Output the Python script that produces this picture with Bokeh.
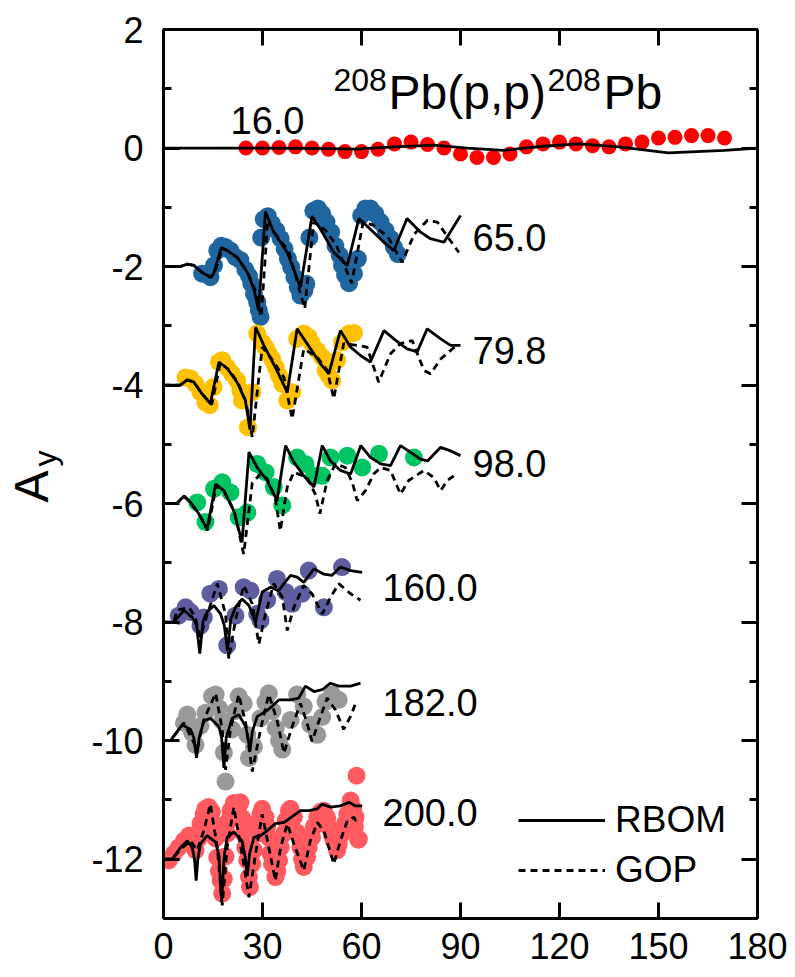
import math
from bokeh.plotting import figure
from bokeh.layouts import row
from bokeh.core.properties import value
from bokeh.models import Label, SingleIntervalTicker, LinearAxis, Legend, LegendItem, Range1d
from bokeh.embed import file_html
from bokeh.resources import INLINE

FONT = "Liberation Sans"

# ---------------- data ----------------
energies = ["16.0", "65.0", "79.8", "98.0", "160.0", "182.0", "200.0"]
offsets = [0, -2, -4, -6, -8, -10, -12]
colors = ["#FF0000", "#1F65A0", "#FFC000", "#00C462", "#5C5EA0", "#999999", "#FF5A5F"]

# 16.0 MeV
exp16_x = [25, 30, 35, 40, 45, 50, 55, 60, 65, 70, 75, 80, 85, 90, 95, 100, 105, 110, 115, 120,
           125, 130, 135, 140, 145, 150, 155, 160, 165, 170]
exp16_y = [0.00, 0.00, 0.01, 0.02, 0.00, -0.02, -0.06, -0.06, -0.02, 0.07, 0.10, 0.06, 0.00, -0.10,
           -0.16, -0.16, -0.10, 0.02, 0.07, 0.10, 0.07, 0.04, 0.02, 0.07, 0.10, 0.17, 0.18, 0.21, 0.21, 0.17]
rbom16_x = [0, 30, 50, 58, 70, 82, 92, 103, 115, 126, 138, 153, 170, 180]
rbom16_y = [0, 0, -0.01, -0.02, 0.02, 0.05, 0.0, -0.04, 0.03, 0.07, 0.02, -0.08, -0.04, 0.0]

# 65.0 MeV
exp65_x = [11.7, 14.2, 15.3, 16.3, 17.5, 18.8, 20.3, 21.8, 23.3, 24.8, 25.9, 26.6, 27.4, 28.4, 28.9,
           29.4, 29.6, 30.4, 31.6, 32.9, 34.2, 35.5, 36.7, 37.7, 38.7, 39.7, 40.7, 41.5, 42.7, 43.3,
           44.2, 45.4, 46.8, 48.1, 49.4, 50.8, 52.1, 53.4, 54.1, 55.0, 56.2, 57.7, 58.9, 59.9, 61.2,
           62.7, 64.2, 65.8, 67.3, 68.8, 69.8, 71.0]
exp65_y = [-0.12, -0.18, 0.02, 0.27, 0.35, 0.33, 0.27, 0.16, 0.11, -0.05, -0.16, -0.29, -0.46, -0.60,
           -0.74, -0.85, 0.49, 0.80, 0.85, 0.72, 0.61, 0.47, 0.30, 0.13, -0.01, -0.18, -0.35, -0.49,
           -0.40, -0.29, 0.49, 0.94, 0.98, 0.89, 0.75, 0.58, 0.35, 0.19, 0.02, -0.14, -0.28, -0.12,
           0.13, 0.86, 0.98, 0.98, 0.89, 0.75, 0.61, 0.47, 0.33, 0.21]
rbom65_x = [0, 5, 7.2, 9.2, 11.7, 14.2, 15.2, 17.5, 19.3, 22.3, 25.4, 27.4, 28.8, 30.9, 33.4, 37.5,
            41.5, 45.0, 47.6, 51.6, 55.7, 59.2, 62.7, 66.8, 69.8, 73.8, 77.9, 80.9, 85.0, 90.0]
rbom65_y = [0, 0, 0.04, 0.02, -0.10, -0.18, -0.12, 0.32, 0.27, 0.16, -0.10, -0.38, -0.74, 0.93, 0.58,
            0.24, -0.35, 0.85, 0.63, 0.24, 0.02, 0.81, 0.63, 0.41, 0.27, 0.81, 0.58, 0.47, 0.41, 0.86]
gop65_x = [0, 5, 7.2, 9.2, 11.7, 14.4, 15.6, 17.7, 19.5, 22.5, 25.5, 27.8, 29.6, 31.6, 34.0, 38.0,
           42.8, 45.5, 49.0, 52.5, 57.0, 60.5, 63.5, 68.0, 72.3, 76.0, 80.0, 83.0, 86.5, 89.5]
gop65_y = [0, 0, 0.04, 0.02, -0.10, -0.18, -0.10, 0.30, 0.27, 0.14, -0.10, -0.40, -0.85, 0.78, 0.55,
           0.25, -0.71, 0.75, 0.62, 0.35, -0.28, 0.75, 0.70, 0.50, 0.07, 0.55, 0.78, 0.75, 0.47, 0.24]

# 79.8 MeV
exp80_x = [6.7, 8.2, 9.7, 11.2, 12.7, 14.0, 15.2, 16.8, 17.8, 19.3, 20.8, 22.3, 23.3, 23.8, 25.6,
           26.9, 28.4, 29.9, 30.9, 31.9, 32.9, 34.0, 35.0, 36.0, 37.5, 39.0, 40.5, 42.5, 44.0, 45.0,
           46.6, 48.1, 49.1, 50.1, 51.1, 52.6, 54.1, 56.2, 57.7]
exp80_y = [0.13, 0.11, 0.02, -0.12, -0.29, -0.34, -0.03, 0.39, 0.42, 0.30, 0.19, 0.08, -0.09, -0.26,
           -0.71, -0.12, 0.87, 0.72, 0.64, 0.53, 0.44, 0.30, 0.16, 0.02, -0.26, -0.12, 0.78, 0.87,
           0.81, 0.70, 0.58, 0.47, 0.25, 0.16, 0.08, 0.42, 0.72, 0.87, 0.88]
rbom80_x = [0, 5.1, 7.2, 9.2, 11.7, 14.2, 16.8, 19.3, 22.3, 24.8, 26.2, 27.9, 30.4, 33.9, 37.5, 40.5,
            43.5, 47.6, 50.1, 53.6, 56.7, 59.7, 62.7, 66.8, 69.8, 73.8, 76.9, 79.9, 84.0, 87.0, 90.0]
rbom80_y = [0, 0, 0.09, 0.05, -0.15, -0.31, 0.39, 0.28, 0.05, -0.26, -0.75, 0.98, 0.67, 0.30, -0.12,
            0.95, 0.70, 0.36, 0.19, 0.92, 0.64, 0.50, 0.39, 0.92, 0.78, 0.61, 0.56, 0.95, 0.78, 0.67, 0.67]
gop80_x = [0, 5.1, 7.2, 9.2, 11.7, 14.6, 17.2, 19.6, 22.5, 25.0, 26.9, 29.9, 32.4, 36.5, 39.0, 42.5,
           46.6, 49.6, 51.6, 54.6, 58.7, 61.7, 65.2, 68.8, 71.8, 75.4, 78.9, 80.9, 84.0, 87.5, 89.0]
gop80_y = [0, 0, 0.09, 0.05, -0.15, -0.33, 0.37, 0.27, 0.05, -0.28, -0.88, 0.64, 0.47, 0.13, -0.57,
           0.61, 0.47, 0.25, -0.23, 0.70, 0.67, 0.64, 0.05, 0.53, 0.70, 0.75, 0.25, 0.19, 0.44, 0.61, 0.67]

# 98.0 MeV
exp98_x = [10.2, 12.7, 15.3, 17.8, 20.3, 22.8, 25.4, 28.4, 30.9, 33.4, 36.0, 40.5, 43.0, 45.6, 48.1,
           50.6, 55.7, 60.2, 65.3, 75.9]
exp98_y = [0.02, -0.31, 0.25, 0.36, 0.19, -0.23, -0.15, 0.67, 0.53, 0.28, -0.03, 0.78, 0.67, 0.47,
           0.47, 0.78, 0.81, 0.61, 0.84, 0.78]
rbom98_x = [0, 4.0, 6.2, 8.2, 10.7, 13.2, 15.8, 18.3, 21.3, 23.8, 25.9, 28.4, 31.4, 34.4, 37.0, 39.5,
            42.5, 45.6, 48.1, 50.6, 53.6, 56.7, 59.8, 62.7, 65.8, 68.8, 71.8, 74.8, 77.9, 80.0, 84.0,
            87.0, 90.0]
rbom98_y = [0, 0, 0.13, 0.02, -0.17, -0.43, 0.33, 0.22, -0.12, -0.65, 0.87, 0.61, 0.39, 0.05, 0.98,
            0.70, 0.47, 0.28, 0.98, 0.72, 0.56, 0.50, 0.98, 0.78, 0.67, 0.64, 0.98, 0.87, 0.75, 0.72,
            0.95, 0.89, 0.81]
gop98_x = [0, 4.0, 6.2, 8.2, 10.7, 13.4, 16.0, 18.5, 21.5, 24.3, 26.9, 29.4, 31.4, 33.9, 35.4, 37.5,
           39.5, 43.5, 46.0, 47.4, 49.6, 52.1, 55.1, 57.2, 58.7, 61.2, 63.7, 65.8, 68.8, 70.3, 71.8,
           74.3, 78.9, 81.9, 84.0, 86.0, 88.0]
gop98_y = [0, 0, 0.13, 0.02, -0.17, -0.45, 0.30, 0.20, -0.14, -0.85, 0.35, 0.50, 0.42, 0.08, -0.46,
           0.28, 0.53, 0.44, 0.16, -0.17, 0.39, 0.67, 0.61, 0.36, 0.05, 0.22, 0.50, 0.61, 0.56, 0.36,
           0.16, 0.39, 0.56, 0.44, 0.22, 0.39, 0.47]

# 160.0 MeV
exp160_x = [4.6, 6.7, 8.2, 11.2, 12.2, 14.2, 16.8, 19.3, 21.8, 24.3, 26.4, 28.4, 29.4, 31.4, 34.4,
            37.0, 39.0, 42.0, 44.0, 48.6, 54.1]
exp160_y = [0.11, 0.25, 0.17, -0.06, 0.08, 0.48, 0.56, -0.39, 0.11, 0.59, 0.53, 0.14, 0.03, 0.37,
            0.73, 0.51, 0.31, 0.48, 0.87, 0.25, 0.93]
rbom160_x = [0, 3.1, 6.2, 8.7, 10.0, 11.0, 12.0, 13.2, 15.3, 17.3, 18.4, 19.4, 20.4, 21.8, 23.8, 25.9,
             27.9, 29.9, 32.4, 34.9, 36.5, 38.5, 40.5, 42.5, 45.6, 48.6, 51.1, 53.6, 56.7, 60.2]
rbom160_y = [0, 0, 0.20, 0.08, -0.05, -0.53, 0.02, 0.17, 0.28, 0.14, -0.05, -0.48, 0.05, 0.25, 0.39,
             0.28, 0.0, 0.51, 0.59, 0.53, 0.65, 0.79, 0.76, 0.67, 0.90, 0.81, 0.79, 0.93, 0.87, 0.84]
gop160_x = [0, 3.1, 4.1, 7.7, 9.5, 11.2, 12.7, 16.3, 18.8, 19.8, 21.8, 24.3, 26.9, 28.9, 30.9, 33.4,
            36.0, 37.5, 39.5, 42.5, 45.0, 48.1, 50.6, 53.1, 56.7, 59.7]
gop160_y = [0, 0, 0.20, 0.25, 0.10, -0.25, 0.03, 0.65, 0.14, -0.62, 0.03, 0.62, 0.31, -0.37, 0.14,
            0.65, 0.42, -0.14, 0.25, 0.62, 0.48, 0.14, 0.42, 0.65, 0.48, 0.37]

# 182.0 MeV
exp182_x = [6.2, 7.2, 8.7, 9.7, 11.2, 12.7, 14.7, 15.8, 16.8, 17.8, 18.3, 18.8, 20.8, 21.8, 22.8,
            24.3, 25.4, 25.9, 27.4, 29.4, 30.9, 31.9, 33.0, 34.0, 35.0, 36.0, 38.5, 40.5, 42.5, 44.5,
            46.6, 48.1, 49.1, 51.1, 53.1]
exp182_y = [0.30, 0.44, 0.13, -0.07, 0.25, 0.47, 0.75, 0.78, 0.55, 0.33, -0.20, -0.69, 0.19, 0.50,
            0.75, 0.63, 0.10, -0.29, -0.10, 0.38, 0.65, 0.80, 0.50, 0.21, 0.00, -0.15, 0.35, 0.78, 0.58,
            0.27, 0.10, 0.40, 0.66, 0.78, 0.69]
rbom182_x = [0, 2.1, 5.7, 8.2, 9.2, 10.0, 10.8, 12.2, 14.2, 16.8, 17.6, 18.3, 19.0, 20.8, 22.8, 24.9,
             25.6, 26.2, 26.9, 28.4, 30.9, 32.9, 35.0, 38.5, 41.0, 43.0, 45.6, 48.1, 50.6, 53.1, 56.7,
             59.7]
rbom182_y = [0, 0, 0.27, 0.19, 0.05, -0.29, 0.05, 0.33, 0.38, 0.24, 0.05, -0.46, 0.05, 0.38, 0.44,
             0.24, 0.05, -0.18, 0.15, 0.41, 0.49, 0.58, 0.69, 0.69, 0.72, 0.92, 0.83, 0.86, 0.97, 0.92,
             0.92, 0.97]
gop182_x = [0, 2.1, 6.2, 8.7, 10.2, 12.2, 15.8, 17.8, 18.8, 20.3, 22.8, 24.9, 26.9, 29.4, 31.9, 34.4,
            36.5, 39.0, 41.5, 43.5, 45.0, 47.6, 49.6, 52.1, 54.6, 56.7, 58.2]
gop182_y = [0, 0, 0.30, 0.02, -0.15, 0.35, 0.80, 0.19, -0.49, 0.19, 0.78, 0.30, -0.52, 0.19, 0.78,
            0.35, -0.21, 0.24, 0.63, 0.30, -0.01, 0.41, 0.72, 0.52, 0.19, 0.41, 0.63]

# 200.0 MeV
exp200_x = [1.6, 3.1, 4.6, 6.2, 7.7, 8.7, 9.7, 10.7, 11.2, 11.7, 12.2, 12.7, 13.7, 14.7, 15.3, 15.8,
            16.3, 16.8, 17.3, 17.8, 18.3, 18.8, 19.3, 19.8, 20.3, 21.3, 21.8, 22.8, 23.3, 23.8, 24.3,
            24.8, 25.4, 25.9, 26.2, 26.9, 27.4, 27.9, 28.4, 29.4, 29.9, 30.9, 31.4, 31.9, 32.4, 32.9,
            33.9, 34.5, 35.0, 35.5, 36.5, 37.0, 38.0, 38.5, 39.5, 40.5, 41.5, 42.0, 42.5, 43.5, 44.0,
            45.0, 45.6, 46.6, 47.6, 48.6, 49.6, 50.1, 51.1, 51.6, 52.6, 53.1, 54.1, 55.0, 55.7, 56.7,
            57.5, 58.0, 58.2, 59.2, 58.5, 59.0]
exp200_y = [-0.02, 0.09, 0.20, 0.31, 0.40, 0.35, 0.15, 0.35, 0.60, 0.50, 0.76, 0.85, 0.88, 0.80,
            0.60, 0.35, 0.03, -0.20, -0.36, -0.58, -0.33, 0.05, 0.43, 0.65, 0.82, 0.95, 0.93, 0.90,
            0.96, 0.70, 0.43, 0.20, -0.02, -0.30, -0.47, -0.08, 0.15, 0.60, 0.43, 0.76, 0.85, 0.71,
            0.55, 0.37, 0.10, -0.08, -0.30, -0.20, -0.02, 0.20, 0.43, 0.65, 0.82, 0.85, 0.71, 0.45,
            0.20, 0.00, -0.13, 0.03, 0.20, 0.37, 0.55, 0.71, 0.80, 0.82, 0.70, 0.54, 0.40, 0.31, 0.15,
            0.25, 0.43, 0.60, 0.76, 0.99, 0.85, 0.55, 0.71, 0.34, 1.41, 0.33]
rbom200_x = [0, 2.6, 5.2, 7.2, 8.7, 9.4, 9.9, 10.4, 11.2, 13.2, 15.8, 16.8, 17.6, 18.4, 19.3, 21.3,
             23.8, 24.7, 25.4, 26.1, 27.4, 29.4, 31.4, 33.9, 36.5, 39.5, 41.5, 44.0, 46.6, 48.1, 50.6,
             53.6, 56.2, 58.2, 60.2]
rbom200_y = [0, 0, 0.20, 0.31, 0.20, 0.0, -0.36, 0.0, 0.26, 0.40, 0.29, 0.05, -0.72, 0.05, 0.37, 0.46,
             0.31, 0.05, -0.28, 0.10, 0.37, 0.40, 0.48, 0.60, 0.62, 0.74, 0.82, 0.82, 0.85, 0.93, 0.88,
             0.90, 0.96, 0.90, 0.90]
gop200_x = [0, 2.6, 5.2, 8.2, 10.2, 12.2, 14.2, 16.3, 17.8, 19.3, 21.3, 23.8, 25.9, 27.9, 29.9, 31.9,
            33.9, 35.5, 37.5, 39.5, 42.5, 44.5, 46.6, 48.6, 51.6, 53.6, 55.7, 57.7, 58.7]
gop200_y = [0, 0, 0.17, 0.31, 0.15, 0.48, 0.93, 0.20, -0.78, 0.20, 0.88, 0.09, -0.64, 0.09, 0.76,
            0.20, -0.36, 0.20, 0.60, 0.26, -0.19, 0.31, 0.62, 0.48, -0.08, 0.31, 0.65, 0.71, 0.60]

exp_x = [exp16_x, exp65_x, exp80_x, exp98_x, exp160_x, exp182_x, exp200_x]
exp_y = [exp16_y, exp65_y, exp80_y, exp98_y, exp160_y, exp182_y, exp200_y]
rbom_x = [rbom16_x, rbom65_x, rbom80_x, rbom98_x, rbom160_x, rbom182_x, rbom200_x]
rbom_y = [rbom16_y, rbom65_y, rbom80_y, rbom98_y, rbom160_y, rbom182_y, rbom200_y]
gop_x = [None, gop65_x, gop80_x, gop98_x, gop160_x, gop182_x, gop200_x]
gop_y = [None, gop65_y, gop80_y, gop98_y, gop160_y, gop182_y, gop200_y]

y_tick_labels = {2: "2", 0: "0", -2: "-2", -4: "-4", -6: "-6", -8: "-8", -10: "-10", -12: "-12"}
x_ticks_interval = 30
y_ticks_interval = 2

# ---------------- layout geometry ----------------
W, H = 795, 977
LW = 80                                  # strip holding the y-axis title
FL, FR, FT, FB = 163, 757, 29, 918       # frame edges in page pixels
XMIN, XMAX, YMIN, YMAX = 0, 180, -13, 2

# strip with the rotated y-axis title (A with subscript y); its frame spans the
# same vertical extent as the main frame, with y in page pixels.
lab = figure(frame_width=LW, frame_height=FB - FT, min_border_left=0, min_border_right=0,
             min_border_top=FT, min_border_bottom=H - FB,
             x_range=Range1d(0, LW), y_range=Range1d(FB, FT),
             x_axis_type=None, y_axis_type=None, title_location=None,
             output_backend="svg", toolbar_location=None)
lab.grid.visible = False
lab.outline_line_color = None
lab.background_fill_color = "white"
lab.border_fill_color = "white"
lab.text(x=[31], y=[486], text=["A"], angle=math.pi / 2, text_align="center",
         text_baseline="middle", text_font=value(FONT), text_font_size=value("48px"),
         text_color="black")
lab.text(x=[44], y=[458], text=["y"], angle=math.pi / 2, text_align="center",
         text_baseline="middle", text_font=value(FONT), text_font_size=value("32px"),
         text_color="black")

p = figure(frame_width=FR - FL, frame_height=FB - FT,
           min_border_left=FL - LW, min_border_right=W - FR,
           min_border_top=FT, min_border_bottom=H - FB,
           x_range=Range1d(XMIN, XMAX), y_range=Range1d(YMIN, YMAX),
           output_backend="svg", toolbar_location=None)
p.grid.visible = False
p.outline_line_color = None
p.background_fill_color = "white"
p.border_fill_color = "white"


def sx(px):
    return XMIN + (px - FL) / (FR - FL) * (XMAX - XMIN)


def sy(py):
    return YMAX - (py - FT) / (FB - FT) * (YMAX - YMIN)


def style_axis(ax, labels=True, xaxis=True):
    ax.axis_line_width = 3
    ax.axis_line_color = "black"
    ax.major_tick_line_width = 3
    ax.minor_tick_line_width = 3
    ax.major_tick_out = 0
    ax.minor_tick_out = 0
    ax.major_tick_in = 16
    ax.minor_tick_in = 8
    if xaxis:
        ax.ticker = SingleIntervalTicker(interval=x_ticks_interval, num_minor_ticks=0)
    else:
        ax.ticker = SingleIntervalTicker(interval=y_ticks_interval, num_minor_ticks=2)
    ax.major_label_text_font = FONT
    ax.major_label_text_color = "black"
    if labels:
        ax.major_label_text_font_size = "36px"
    else:
        ax.major_label_text_font_size = "0px"
        ax.major_label_text_alpha = 0


style_axis(p.xaxis[0], True, True)
p.xaxis[0].major_label_standoff = 14
style_axis(p.yaxis[0], True, False)
p.yaxis[0].major_label_standoff = 20
p.yaxis[0].major_label_overrides = y_tick_labels
top = LinearAxis()
style_axis(top, False, True)
p.add_layout(top, "above")
right = LinearAxis()
style_axis(right, False, False)
p.add_layout(right, "right")

# data points
for i in range(len(energies)):
    ys = [v + offsets[i] for v in exp_y[i]]
    p.scatter(exp_x[i], ys, size=15 if i == 0 else 18, color=colors[i], line_color=None)

# theory curves
legend_solid = None
legend_dash = None
for i in range(len(energies)):
    ys = [v + offsets[i] for v in rbom_y[i]]
    r = p.line(rbom_x[i], ys, line_color="black", line_width=2.8)
    if i == 1:
        legend_solid = r
    if gop_x[i] is not None:
        ys2 = [v + offsets[i] for v in gop_y[i]]
        r2 = p.line(gop_x[i], ys2, line_color="black", line_width=2.8, line_dash="7 5")
        if i == 1:
            legend_dash = r2


def add_text(text, px, py, size, align="left", angle=0.0):
    p.add_layout(Label(x=sx(px), y=sy(py), text=text, text_font=FONT,
                       text_font_size=f"{size}px", text_align=align,
                       text_baseline="middle", angle=angle, text_color="black"))


# energy labels
label_pos = [(230, 120), (472, 237), (472, 350), (472, 463), (382, 587), (382, 702), (382, 812)]
for lab_text, (lx, ly) in zip(energies, label_pos):
    add_text(lab_text, lx, ly, 38)

# reaction title
add_text("208", 333, 79, 32)
add_text("Pb(p,p)", 388, 92, 48)
add_text("208", 547, 79, 32)
add_text("Pb", 603, 92, 48)

legend = Legend(items=[LegendItem(label="RBOM", renderers=[legend_solid]),
                       LegendItem(label="GOP", renderers=[legend_dash])],
                location=(355, 27), label_text_font=FONT, label_text_font_size="37px",
                label_text_color="black",
                glyph_width=87, glyph_height=40, label_height=40, spacing=8, padding=0,
                margin=0, border_line_color=None, background_fill_alpha=0, label_standoff=10)
p.add_layout(legend)

layout = row(lab, p, spacing=0)
open("out.html", "w").write(file_html(layout, INLINE))
